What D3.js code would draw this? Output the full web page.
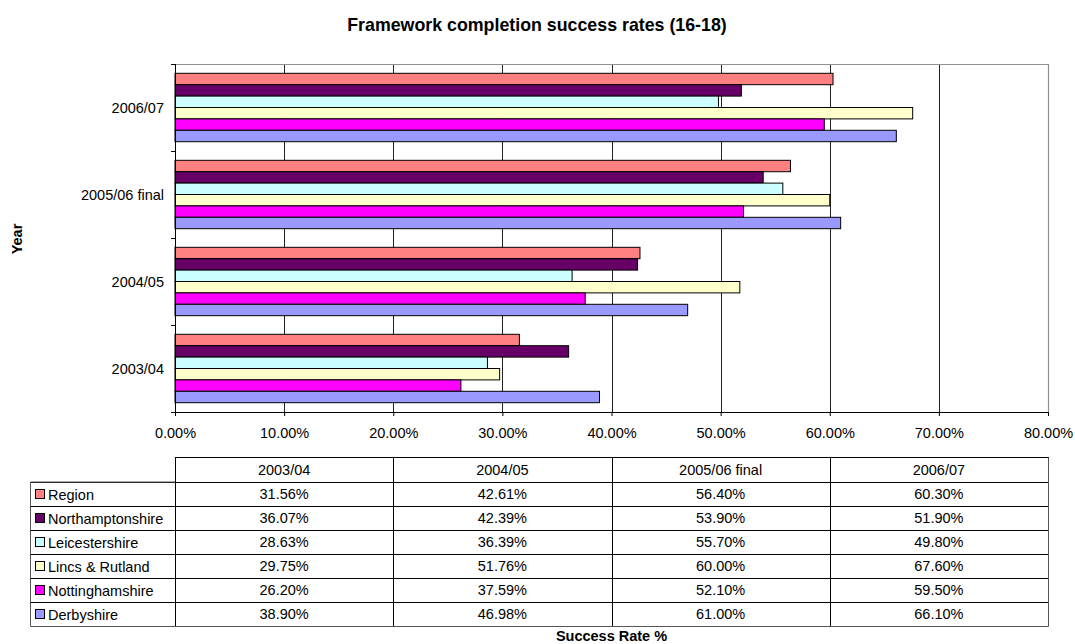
<!DOCTYPE html>
<html>
<head>
<meta charset="utf-8">
<script src="https://cdn.jsdelivr.net/npm/d3@7"></script>
<style>
html,body{margin:0;padding:0;background:#fff;}
svg{display:block;font-family:"Liberation Sans",Arial,sans-serif;}
</style>
</head>
<body>
<svg id="chart" width="1075" height="644"></svg>
<script>
const years = ["2003/04","2004/05","2005/06 final","2006/07"];
const seriesNames = ["Region","Northamptonshire","Leicestershire","Lincs & Rutland","Nottinghamshire","Derbyshire"];
const seriesColors = ["#FF8080","#660066","#CCFFFF","#FFFFCC","#FF00FF","#9999FF"];
const region = [31.56,42.61,56.40,60.30];
const northamptonshire = [36.07,42.39,53.90,51.90];
const leicestershire = [28.63,36.39,55.70,49.80];
const lincs = [29.75,51.76,60.00,67.60];
const nottinghamshire = [26.20,37.59,52.10,59.50];
const derbyshire = [38.90,46.98,61.00,66.10];
const xTicks = [0,10,20,30,40,50,60,70,80];
const title = "Framework completion success rates (16-18)";
const xTitle = "Success Rate %";
const yTitle = "Year";

const seriesValues = [region,northamptonshire,leicestershire,lincs,nottinghamshire,derbyshire];

const FS = 14.5;
const svg = d3.select("#chart");
const L = 175, R = 1048, T = 64, B = 412;

const x = d3.scaleLinear().domain([0,80]).range([L,R]);
const y = d3.scaleBand().domain(years.slice().reverse()).range([T,B]).paddingInner(0.214).paddingOuter(0.107);
const yInner = d3.scaleBand().domain(seriesNames).range([0,y.bandwidth()]);

// title
svg.append("text").attr("x",537).attr("y",25).attr("dy","0.35em").attr("text-anchor","middle")
  .attr("font-size",17.8).attr("font-weight","bold").text(title);

// gridlines
svg.append("g").selectAll("line").data(xTicks.filter(d=>d>0 && d<80)).join("line")
  .attr("x1",d=>Math.round(x(d))+0.5).attr("x2",d=>Math.round(x(d))+0.5)
  .attr("y1",T).attr("y2",B).attr("stroke","#222").attr("stroke-width",1);
// plot border top/right
svg.append("path").attr("d",`M${L},${T+0.5}H${Math.round(R)+0.5}V${B}`)
  .attr("fill","none").attr("stroke","#909090").attr("stroke-width",1.2);

// bars
const groups = svg.append("g").selectAll("g").data(years).join("g")
  .attr("transform",d=>`translate(0,${y(d)})`);
groups.selectAll("rect").data((yr,i)=>seriesNames.map((s,j)=>({s,v:seriesValues[j][i],c:seriesColors[j]})))
  .join("rect")
  .attr("x",x(0)).attr("y",d=>yInner(d.s))
  .attr("width",d=>x(d.v)-x(0)).attr("height",yInner.bandwidth())
  .attr("fill",d=>d.c).attr("stroke","#000").attr("stroke-width",1);

// x axis
const xAxis = d3.axisBottom(x).tickValues(xTicks).tickFormat(d=>d.toFixed(2)+"%").tickSize(4).tickSizeOuter(0);
const gx = svg.append("g").attr("transform",`translate(0,${B})`).call(xAxis);
gx.select(".domain").attr("stroke","#000");
gx.selectAll(".tick line").attr("stroke","#000");
gx.selectAll("text").attr("font-size",FS).attr("font-family","Liberation Sans, Arial, sans-serif").attr("fill","#000")
  .attr("y",21).attr("dy","0.35em");

// y axis with ticks at category boundaries
const gy = svg.append("g");
gy.append("line").attr("x1",L+0.5).attr("x2",L+0.5).attr("y1",T).attr("y2",B+4).attr("stroke","#000");
const step = y.step();
const boundaries = d3.range(years.length+1).map(i=>T+i*step);
gy.selectAll(".yt").data(boundaries).join("line")
  .attr("x1",L-4).attr("x2",L).attr("y1",d=>Math.round(d)+0.5).attr("y2",d=>Math.round(d)+0.5).attr("stroke","#000");
gy.selectAll("text").data(years).join("text")
  .attr("x",L-11).attr("y",d=>y(d)+y.bandwidth()/2).attr("dy","0.35em")
  .attr("text-anchor","end").attr("font-size",FS).text(d=>d);

// y title
svg.append("text").attr("transform","translate(17,239) rotate(-90)").attr("dy","0.35em")
  .attr("text-anchor","middle").attr("font-size",FS).attr("font-weight","bold").text(yTitle);

// data table
const colX = d3.scaleBand().domain(years).range([L,R]);
const headTop = 457, rowTop = 482, rowH = 24;
const tbl = svg.append("g");
tbl.append("rect").attr("x",L+0.5).attr("y",headTop+0.5).attr("width",R-L).attr("height",rowTop-headTop)
  .attr("fill","none").attr("stroke","#000");
tbl.selectAll(".hd").data(years).join("text")
  .attr("x",d=>colX(d)+colX.bandwidth()/2).attr("y",(headTop+rowTop)/2).attr("dy","0.35em")
  .attr("text-anchor","middle").attr("font-size",FS).text(d=>d);
tbl.selectAll(".vl").data(years.slice(1)).join("line")
  .attr("x1",d=>Math.round(colX(d))+0.5).attr("x2",d=>Math.round(colX(d))+0.5)
  .attr("y1",headTop).attr("y2",rowTop+rowH*6).attr("stroke","#000");
const rowsG = tbl.selectAll(".row").data(seriesNames).join("g")
  .attr("transform",(d,i)=>`translate(0,${rowTop+i*rowH})`);
rowsG.append("line").attr("x1",31).attr("x2",R).attr("y1",0.5).attr("y2",0.5).attr("stroke","#000");
rowsG.append("rect").attr("x",35.5).attr("y",rowH/2-4.5).attr("width",9).attr("height",9)
  .attr("fill",(d,i)=>seriesColors[i]).attr("stroke","#000");
rowsG.append("text").attr("x",48).attr("y",rowH/2+1).attr("dy","0.35em").attr("font-size",FS).text(d=>d);
rowsG.selectAll(".v").data((s,j)=>seriesValues[j].map((v,i)=>({v,yr:years[i]}))).join("text")
  .attr("x",d=>colX(d.yr)+colX.bandwidth()/2).attr("y",rowH/2).attr("dy","0.35em")
  .attr("text-anchor","middle").attr("font-size",FS).text(d=>d.v.toFixed(2)+"%");
tbl.append("path").attr("d",`M${L+0.5},${rowTop}H30.5V${rowTop+rowH*6+0.5}H${R+0.5}V${headTop+0.5}`)
  .attr("fill","none").attr("stroke","#555").attr("stroke-width",1);
tbl.append("line").attr("x1",L+0.5).attr("x2",L+0.5).attr("y1",headTop).attr("y2",rowTop+rowH*6).attr("stroke","#000");

// x title
svg.append("text").attr("x",(L+R)/2).attr("y",641).attr("text-anchor","middle")
  .attr("font-size",FS).attr("font-weight","bold").text(xTitle);
</script>
</body>
</html>
